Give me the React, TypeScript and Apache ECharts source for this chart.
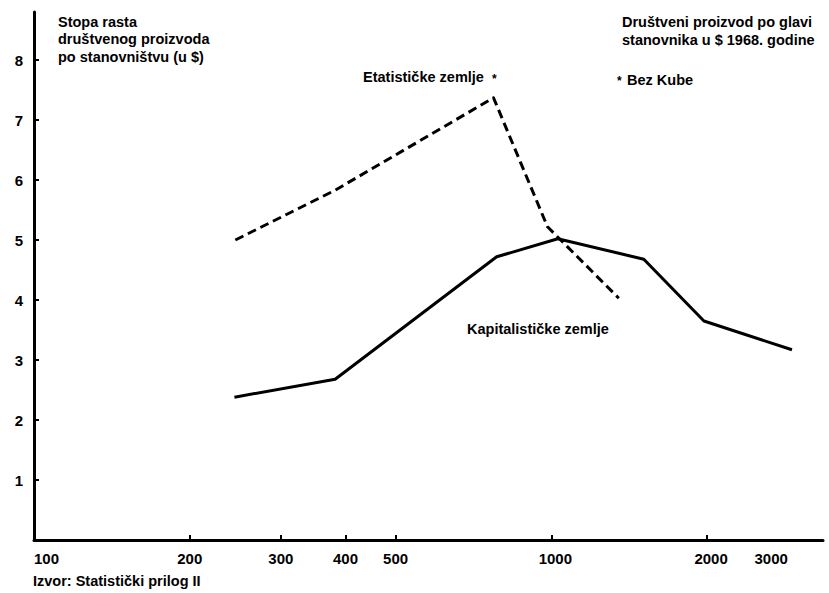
import React, { useEffect, useRef } from "react";
import * as echarts from "echarts";

// Društveni proizvod po glavi stanovnika (US $, 1968) and growth rate (%)
const etatX = [245, 382, 773, 983, 1350];
const etatY = [5.0, 5.83, 7.37, 5.22, 4.03];
const kapX = [244, 382, 784, 1029, 1509, 1972, 2918];
const kapY = [2.38, 2.68, 4.72, 5.02, 4.68, 3.65, 3.17];

const xTickLabels = [100, 200, 300, 400, 500, 1000, 2000, 3000];
const xTicks = [200, 300, 400, 500, 1000, 2000];
const yTicks = [1, 2, 3, 4, 5, 6, 7, 8];

const yTitle = ["Stopa rasta", "društvenog proizvoda", "po stanovništvu (u $)"];
const xTitle = ["Društveni proizvod po glavi", "stanovnika u $ 1968. godine"];
const note = "Bez Kube";
const etatName = "Etatističke zemlje";
const kapName = "Kapitalističke zemlje";
const source = "Izvor: Statistički prilog II";

const FONT = "'Liberation Sans', Arial, Helvetica, sans-serif";

export default function App() {
  const ref = useRef<HTMLDivElement>(null);
  useEffect(() => {
    if (!ref.current) return;
    const chart = echarts.init(ref.current, undefined, { renderer: "svg" });
    const txt = (text: string, x: number, y: number, extra: any = {}) => ({
      type: "text",
      x,
      y,
      style: {
        text,
        fill: "#000",
        fontFamily: FONT,
        fontSize: 14.5,
        fontWeight: "bold",
        lineHeight: 17.5,
        textVerticalAlign: "middle",
        ...extra,
      },
    });
    const labelFont = { color: "#000", fontFamily: FONT, fontSize: 15, fontWeight: "bold" };
    chart.setOption({
      animation: false,
      backgroundColor: "#fff",
      grid: { left: 34, right: 6, top: 12, bottom: 53, containLabel: false },
      xAxis: {
        type: "log",
        logBase: 10,
        min: 100,
        max: 3350,
        axisLine: { show: true, onZero: false, lineStyle: { color: "#000", width: 3 } },
        axisTick: { show: true, inside: true, length: 5, lineStyle: { color: "#000", width: 2 }, customValues: xTicks },
        axisLabel: {
          customValues: xTickLabels,
          formatter: (v: number) => {
            const r = Math.round(v);
            if (r === 3000) return "{far|" + r + "}";
            if (r >= 1000) return "{near|" + r + "}";
            return String(r);
          },
          rich: {
            far: { ...labelFont, padding: [0, 54, 0, 0] },
            near: { ...labelFont, padding: [0, 0, 0, 8] },
          },
          ...labelFont,
          margin: 11,
          alignMinLabel: "left",
        },
        splitLine: { show: false },
        minorTick: { show: false },
      },
      yAxis: {
        type: "value",
        min: 0,
        max: 8.8,
        interval: 1,
        axisLine: { show: true, onZero: false, lineStyle: { color: "#000", width: 3 } },
        axisTick: { show: true, inside: true, length: 5, lineStyle: { color: "#000", width: 2 }, customValues: yTicks },
        axisLabel: {
          customValues: yTicks,
          ...labelFont,
          margin: 11,
        },
        splitLine: { show: false },
      },
      series: [
        {
          name: etatName,
          type: "line",
          data: etatX.map((x, i) => [x, etatY[i]]),
          symbol: "none",
          lineStyle: { color: "#000", width: 3, type: [9, 5], join: "round" },
        },
        {
          name: kapName,
          type: "line",
          data: kapX.map((x, i) => [x, kapY[i]]),
          symbol: "none",
          lineStyle: { color: "#000", width: 3, join: "round" },
        },
      ],
      graphic: [
        txt(yTitle.join("\n"), 58, 39),
        txt(xTitle.join("\n"), 622, 31),
        txt("*", 617, 81, { fontSize: 12 }),
        txt(note, 627, 80),
        txt(etatName, 363, 77),
        txt("*", 492, 79, { fontSize: 12 }),
        txt(kapName, 467, 329),
        txt(source, 33, 581),
      ],
    });
    return () => chart.dispose();
  }, []);
  return <div ref={ref} style={{ position: "fixed", left: 0, top: 0, width: 829, height: 593 }} />;
}
